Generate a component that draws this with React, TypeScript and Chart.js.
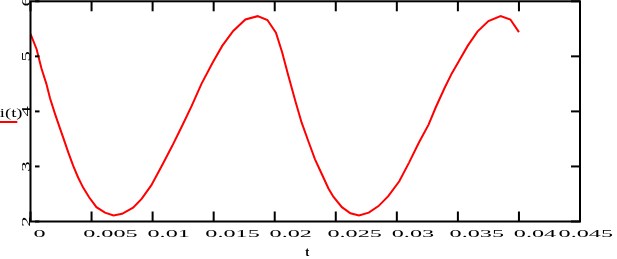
import { useEffect, useRef } from "react";
import { Chart, registerables } from "chart.js";

Chart.register(...registerables);

const tValues = [
  0, 0.0005, 0.0009, 0.0013, 0.0016, 0.002, 0.0024, 0.0027, 0.0031, 0.0035,
  0.0039, 0.0043, 0.0048, 0.0054, 0.0061, 0.0068, 0.0075, 0.0084, 0.0091, 0.0099,
  0.0108, 0.0116, 0.0124, 0.0132, 0.014, 0.0149, 0.0157, 0.0166, 0.0176, 0.0186,
  0.0194, 0.0201, 0.0206, 0.0211, 0.0217, 0.0222, 0.0228, 0.0233, 0.0239, 0.0244,
  0.0248, 0.0255, 0.0262, 0.0269, 0.0277, 0.0285, 0.0293, 0.0302, 0.031, 0.0318,
  0.0326, 0.0332, 0.0339, 0.0345, 0.0351, 0.0358, 0.0366, 0.0375, 0.0385, 0.0393,
  0.04,
];
const iValues = [
  5.41, 5.13, 4.78, 4.5, 4.24, 3.96, 3.7, 3.51, 3.25, 3.01,
  2.8, 2.62, 2.44, 2.26, 2.16, 2.11, 2.14, 2.25, 2.41, 2.66,
  3.03, 3.37, 3.73, 4.1, 4.5, 4.88, 5.19, 5.46, 5.67, 5.73,
  5.66, 5.43, 5.08, 4.66, 4.18, 3.8, 3.43, 3.13, 2.84, 2.6,
  2.45, 2.26, 2.15, 2.11, 2.16, 2.28, 2.46, 2.73, 3.07, 3.43,
  3.76, 4.08, 4.42, 4.69, 4.92, 5.19, 5.45, 5.64, 5.73, 5.67,
  5.44,
];

const xTicks = [0, 0.005, 0.01, 0.015, 0.02, 0.025, 0.03, 0.035, 0.04, 0.045];
const xTickLabels = ["0", "0.005", "0.01", "0.015", "0.02", "0.025", "0.03", "0.035", "0.04", "0.045"];
const yTicks = [2, 3, 4, 5, 6];
const yTickLabels = ["2", "3", "4", "5", "6"];
const xTitle = "t";
const seriesLabel = "i(t)";

const RED = "#ff0000";
const FONT = '11px "Liberation Serif", "Times New Roman", serif';
const YFONT = '13px "Liberation Serif", "Times New Roman", serif';
const SX = 2.2;
const SY = 1.6;

const framePlugin = {
  id: "mathcadFrame",
  afterDraw(chart: any) {
    const { ctx, chartArea: a, scales } = chart;
    const xs = scales.x;
    const ys = scales.y;
    ctx.save();
    ctx.strokeStyle = "#000";
    ctx.lineWidth = 2;
    ctx.lineCap = "butt";
    ctx.strokeRect(a.left, a.top, a.right - a.left, a.bottom - a.top);
    const seg = (x1: number, y1: number, x2: number, y2: number) => {
      ctx.beginPath();
      ctx.moveTo(x1, y1);
      ctx.lineTo(x2, y2);
      ctx.stroke();
    };
    xTicks.forEach((v) => {
      const px = xs.getPixelForValue(v);
      seg(px, a.top, px, a.top + 10);
      seg(px, a.bottom, px, a.bottom - 10);
    });
    yTicks.forEach((v) => {
      const py = ys.getPixelForValue(v);
      seg(a.left + 4.5, py, a.left + 9, py);
      seg(a.right, py, a.right - 9, py);
    });

    ctx.fillStyle = "#000";
    ctx.font = FONT;
    ctx.textBaseline = "alphabetic";
    ctx.textAlign = "left";
    xTickLabels.forEach((lab, i) => {
      const px = xs.getPixelForValue(xTicks[i]);
      const w = ctx.measureText(lab).width * SX;
      let left = px + 6.2 - 0.267 * w;
      if (left + w > 613) left = 613 - w;
      ctx.save();
      ctx.translate(left, 236.5);
      ctx.scale(SX, 1);
      ctx.fillText(lab, 0, 0);
      ctx.restore();
    });

    ctx.font = YFONT;
    ctx.textAlign = "center";
    yTickLabels.forEach((lab, i) => {
      const py = ys.getPixelForValue(yTicks[i]);
      ctx.save();
      ctx.translate(29.5, py);
      ctx.rotate(-Math.PI / 2);
      ctx.scale(SY, 1);
      ctx.fillText(lab, 0, 0);
      ctx.restore();
    });

    ctx.font = 'bold 12px "Liberation Serif", "Times New Roman", serif';
    ctx.textAlign = "center";
    ctx.fillText(xTitle, (a.left + a.right) / 2 + 2, 255.5);

    ctx.font = '12px "Liberation Serif", "Times New Roman", serif';
    ctx.textAlign = "right";
    ctx.save();
    ctx.translate(22.5, 116.5);
    ctx.scale(1.55, 1);
    ctx.fillText(seriesLabel, 0, 0);
    ctx.restore();

    ctx.fillStyle = RED;
    ctx.fillRect(0, 121, 17.3, 2);
    ctx.restore();
  },
};

export default function App() {
  const ref = useRef<HTMLCanvasElement | null>(null);
  useEffect(() => {
    if (!ref.current) return;
    const chart = new Chart(ref.current, {
      type: "line",
      data: {
        datasets: [
          {
            label: seriesLabel,
            data: tValues.map((t, i) => ({ x: t, y: iValues[i] })),
            borderColor: RED,
            borderWidth: 2,
            pointRadius: 0,
            tension: 0,
            fill: false,
          },
        ],
      },
      options: {
        animation: false,
        responsive: false,
        devicePixelRatio: 1,
        layout: { padding: { left: 30.5, right: 37, top: 1.3, bottom: 37.5 } },
        plugins: { legend: { display: false }, tooltip: { enabled: false } },
        scales: {
          x: { type: "linear", min: 0, max: 0.045, display: false },
          y: { type: "linear", min: 2, max: 6, display: false },
        },
      },
      plugins: [framePlugin],
    });
    return () => chart.destroy();
  }, []);
  return (
    <div style={{ position: "fixed", left: 0, top: 0, width: 617, height: 259, background: "#fff" }}>
      <canvas ref={ref} width={617} height={259} style={{ display: "block" }} />
    </div>
  );
}
